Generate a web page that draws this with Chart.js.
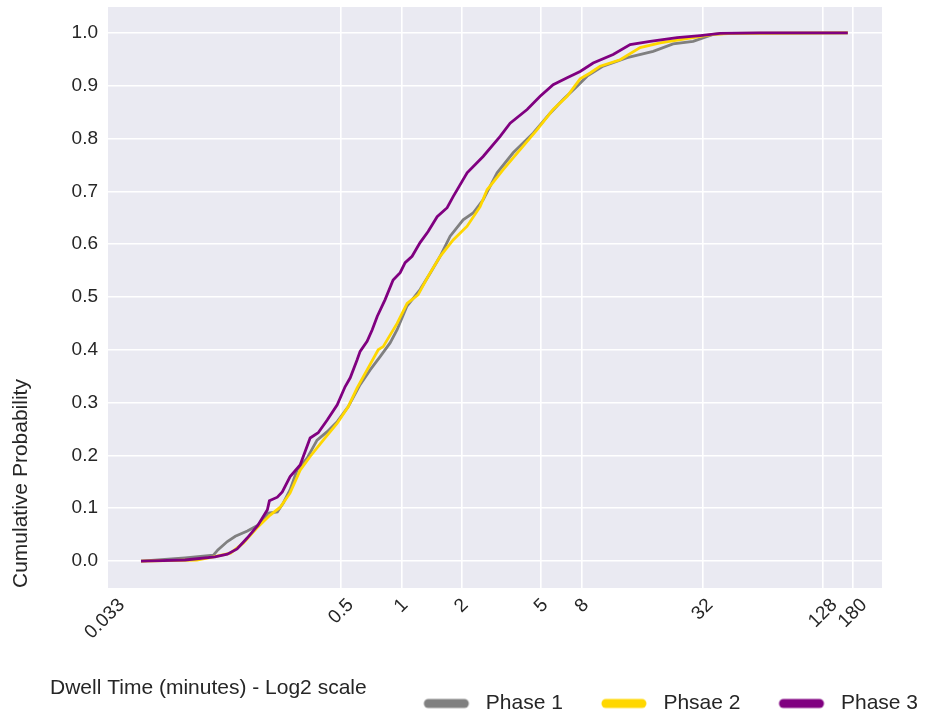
<!DOCTYPE html>
<html><head><meta charset="utf-8">
<script src="https://cdn.jsdelivr.net/npm/chart.js@4.4.1/dist/chart.umd.min.js"></script>
<style>html,body{margin:0;padding:0;background:#fff;}canvas{display:block;}</style>
</head><body>
<canvas id="c" width="937" height="719"></canvas>
<script>
// ---- data ----
const seriesNames = ['Phase 1', 'Phsae 2', 'Phase 3'];

const phase1X = [0.05, 0.083, 0.115, 0.121, 0.135, 0.148, 0.170, 0.192, 0.216, 0.240, 0.257, 0.278, 0.301, 0.338, 0.379, 0.426, 0.478, 0.542, 0.622, 0.698, 0.783, 0.878, 0.952, 1.064, 1.24, 1.392, 1.562, 1.752, 2.035, 2.283, 2.561, 3.008, 3.617, 4.553, 5.536, 6.431, 7.552, 8.473, 9.506, 10.19, 13.43, 18.11, 22.79, 28.69, 36.11, 42.4, 170];
const phase1Y = [0, 0.006, 0.011, 0.021, 0.037, 0.047, 0.057, 0.068, 0.091, 0.093, 0.110, 0.135, 0.172, 0.195, 0.229, 0.245, 0.264, 0.292, 0.334, 0.362, 0.387, 0.413, 0.438, 0.482, 0.514, 0.545, 0.577, 0.615, 0.646, 0.659, 0.684, 0.735, 0.773, 0.810, 0.848, 0.874, 0.899, 0.918, 0.930, 0.937, 0.953, 0.965, 0.979, 0.984, 0.997, 0.999, 1.0];

const phase2X = [0.05, 0.095, 0.115, 0.140, 0.162, 0.190, 0.221, 0.248, 0.278, 0.312, 0.350, 0.407, 0.478, 0.542, 0.601, 0.674, 0.766, 0.811, 0.952, 1.068, 1.211, 1.36, 1.562, 1.814, 2.13, 2.474, 2.681, 3.225, 3.92, 4.767, 5.731, 6.731, 7.818, 8.772, 9.842, 12.39, 15.59, 19.63, 28.69, 36.11, 45.4, 170];
const phase2Y = [0, 0.002, 0.008, 0.015, 0.034, 0.063, 0.087, 0.102, 0.129, 0.172, 0.198, 0.229, 0.261, 0.292, 0.328, 0.362, 0.400, 0.406, 0.450, 0.488, 0.504, 0.539, 0.577, 0.608, 0.634, 0.671, 0.703, 0.741, 0.779, 0.817, 0.855, 0.880, 0.913, 0.924, 0.937, 0.949, 0.972, 0.981, 0.991, 0.997, 0.999, 1.0];

const phase3X = [0.05, 0.083, 0.117, 0.135, 0.151, 0.170, 0.192, 0.214, 0.219, 0.240, 0.254, 0.278, 0.312, 0.350, 0.384, 0.426, 0.478, 0.523, 0.555, 0.601, 0.622, 0.674, 0.715, 0.757, 0.829, 0.909, 0.986, 1.044, 1.131, 1.24, 1.36, 1.509, 1.693, 1.814, 2.13, 2.561, 3.115, 3.494, 4.248, 4.934, 5.731, 6.731, 7.818, 9.081, 11.43, 13.9, 17.5, 23.87, 31.1, 39.13, 62, 170];
const phase3Y = [0, 0.002, 0.008, 0.013, 0.023, 0.044, 0.068, 0.097, 0.114, 0.121, 0.131, 0.160, 0.182, 0.233, 0.243, 0.267, 0.296, 0.330, 0.347, 0.381, 0.397, 0.416, 0.438, 0.463, 0.495, 0.532, 0.546, 0.565, 0.577, 0.603, 0.624, 0.652, 0.669, 0.690, 0.735, 0.766, 0.804, 0.829, 0.855, 0.880, 0.902, 0.915, 0.927, 0.943, 0.959, 0.978, 0.984, 0.991, 0.995, 0.999, 1.0, 1.0];

const xTickValues = [0.033, 0.5, 1, 2, 5, 8, 32, 128, 180];
const xTickLabels = ['0.033', '0.5', '1', '2', '5', '8', '32', '128', '180'];
const yTickValues = [0, 0.1, 0.2, 0.3, 0.4, 0.5, 0.6, 0.7, 0.8, 0.9, 1.0];

const xAxisTitle = 'Dwell Time (minutes) - Log2 scale';
const yAxisTitle = 'Cumulative Probability';

// ---- style ----
const colors = ['#808080', '#FFD700', '#800080'];
const FONT = "'Liberation Sans', Arial, Helvetica, sans-serif";
const TEXT = '#262626';
Chart.defaults.font.family = FONT;
Chart.defaults.color = TEXT;

const toPoints = (xs, ys) => xs.map((x, i) => ({x: x, y: ys[i]}));
const seriesX = [phase1X, phase2X, phase3X];
const seriesY = [phase1Y, phase2Y, phase3Y];

const MARK_GAP = 28.5, MARK_LEN = 45, MARK_W = 80;
function makeMarker(color) {
  const c = document.createElement('canvas');
  c.width = MARK_W; c.height = 12;
  const g = c.getContext('2d');
  g.strokeStyle = color; g.lineWidth = 9; g.lineCap = 'round';
  g.beginPath(); g.moveTo(MARK_GAP + 4.5, 6); g.lineTo(MARK_GAP + MARK_LEN - 4.5, 6); g.stroke();
  return c;
}
const markers = colors.map(makeMarker);

const bgPlugin = {
  id: 'bg',
  beforeDraw(chart) {
    const {ctx, chartArea: a} = chart;
    ctx.save();
    ctx.fillStyle = '#EAEAF2';
    ctx.fillRect(a.left, a.top, a.right - a.left, a.bottom - a.top);
    ctx.restore();
    // centre rotated x tick labels on their ticks
    const xs = chart.scales.x;
    const items = xs.getLabelItems();
    items.forEach(it => {
      if (it._centred) return;
      ctx.save();
      ctx.font = it.font.string;
      const w = ctx.measureText(String(it.label)).width;
      ctx.restore();
      it.options.translation[0] += w * Math.SQRT1_2 / 2;
      it._centred = true;
    });
  },
  afterDraw(chart) {
    const ctx = chart.ctx;
    ctx.save();
    ctx.font = "21px " + FONT;
    ctx.fillStyle = TEXT;
    ctx.textAlign = 'left';
    ctx.textBaseline = 'middle';
    ctx.fillText(xAxisTitle, 50, chart.chartArea.bottom + 100);
    ctx.restore();
  }
};

new Chart(document.getElementById('c'), {
  type: 'line',
  data: {
    datasets: seriesNames.map((name, i) => ({
      label: name,
      data: toPoints(seriesX[i], seriesY[i]),
      borderColor: colors[i],
      backgroundColor: colors[i],
      borderWidth: 2.8,
      pointRadius: 0,
      tension: 0,
      fill: false,
      order: 3 - i
    }))
  },
  options: {
    responsive: false,
    animation: false,
    layout: {padding: {left: 8, right: 9, top: 7, bottom: -5}},
    plugins: {
      tooltip: {enabled: false},
      title: {display: false},
      legend: {
        position: 'bottom',
        align: 'end',
        labels: {
          usePointStyle: true,
          pointStyleWidth: MARK_W,
          padding: 10,
          color: TEXT,
          font: {size: 21},
          generateLabels: (chart) => chart.data.datasets.map((ds, i) => ({
            text: ds.label,
            pointStyle: markers[i],
            fillStyle: colors[i],
            strokeStyle: colors[i],
            lineWidth: 0,
            hidden: false,
            datasetIndex: i,
            fontColor: TEXT
          }))
        }
      }
    },
    scales: {
      x: {
        type: 'logarithmic',
        min: 0.0342,
        max: 252,
        border: {display: false},
        grid: {
          color: (c) => (c.index === 0 ? 'rgba(0,0,0,0)' : '#FFFFFF'),
          lineWidth: 1.6,
          drawTicks: false
        },
        ticks: {
          autoSkip: false,
          minRotation: 45,
          maxRotation: 45,
          padding: 6,
          color: TEXT,
          font: {size: 19},
          callback: (v, i) => xTickLabels[i]
        },
        afterBuildTicks: (s) => { s.ticks = xTickValues.map(v => ({value: v})); },
        afterFit: (s) => { s.height = 95; s.paddingLeft = 0; s.paddingRight = 55; }
      },
      y: {
        type: 'linear',
        min: -0.051,
        max: 1.049,
        border: {display: false},
        grid: {color: '#FFFFFF', lineWidth: 1.6, drawTicks: false},
        ticks: {
          padding: 10,
          color: TEXT,
          font: {size: 19},
          callback: (v) => Number(v).toFixed(1)
        },
        title: {
          display: true,
          text: yAxisTitle,
          align: 'start',
          color: TEXT,
          font: {size: 21},
          padding: {top: 1, bottom: 0}
        },
        afterBuildTicks: (s) => { s.ticks = yTickValues.map(v => ({value: v})); },
        afterFit: (s) => { s.width = 100; s.paddingTop = 0; s.paddingBottom = 0; }
      }
    }
  },
  plugins: [bgPlugin]
});
</script>
</body></html>
